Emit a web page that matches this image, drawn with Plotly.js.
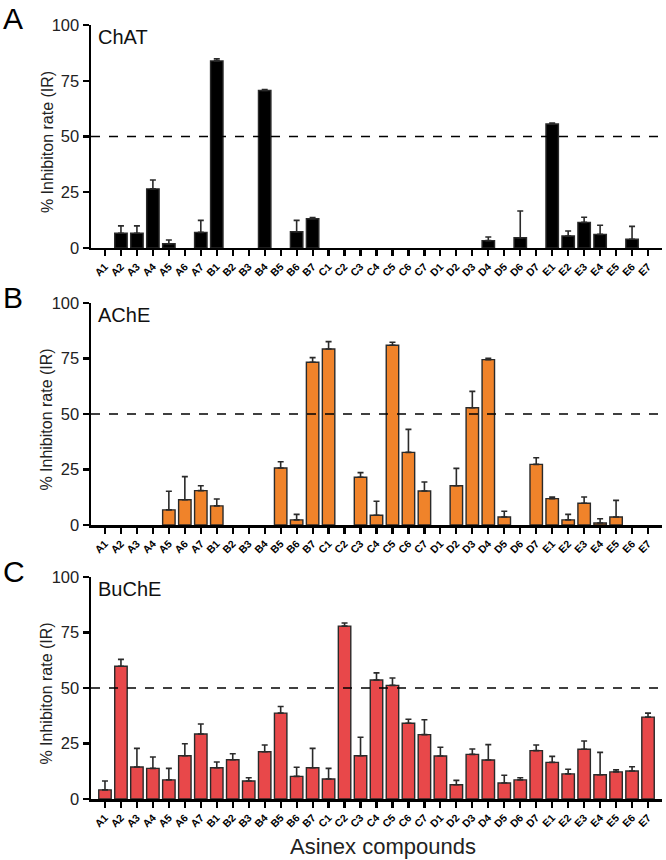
<!DOCTYPE html>
<html>
<head>
<meta charset="utf-8">
<script src="https://cdn.plot.ly/plotly-3.0.1.min.js"></script>
<style>html,body{margin:0;padding:0;background:#fff;}#chart{width:666px;height:860px;}</style>
</head>
<body>
<div id="chart"></div>
<script>
const compounds = ["A1","A2","A3","A4","A5","A6","A7","B1","B2","B3","B4","B5","B6","B7","C1","C2","C3","C4","C5","C6","C7","D1","D2","D3","D4","D5","D6","D7","E1","E2","E3","E4","E5","E6","E7"];

const chatValues = [0,6.6,6.6,26.5,1.9,0,7.0,83.9,0,0,70.6,0,7.3,13.1,0,0,0,0,0,0,0,0,0,0,3.3,0,4.6,0,55.6,5.4,11.5,6.1,0,3.9,0];
const chatErr    = [0,3.3,3.3,4.0,1.7,0,5.4,0.9,0,0,0.4,0,5.1,0.6,0,0,0,0,0,0,0,0,0,0,1.6,0,12.0,0,0.4,2.2,2.3,4.1,0,5.8,0];

const acheValues = [0,0,0,0,6.8,11.4,15.5,8.6,0,0,0,25.7,2.3,73.3,79.3,0,21.5,4.4,81.0,32.7,15.3,0,17.7,52.8,74.5,3.6,0,27.3,11.9,2.3,9.8,0.9,3.6,0,0];
const acheErr    = [0,0,0,0,8.4,10.4,2.2,3.1,0,0,0,2.8,2.5,2.1,3.3,0,2.1,6.3,1.3,10.4,4.1,0,7.8,7.4,0.6,2.6,0,3.0,0.7,2.5,2.8,1.9,7.5,0,0];

const bucheValues = [4.1,59.8,14.4,13.8,8.6,19.5,29.3,14.1,17.7,8.1,21.3,38.7,10.2,14.1,9.0,77.9,19.5,53.6,51.2,34.1,29.0,19.4,6.4,20.1,17.6,7.2,8.6,21.8,16.5,11.3,22.4,10.9,12.2,12.6,36.9];
const bucheErr    = [4.0,3.1,8.4,5.1,5.2,5.4,4.5,2.6,2.7,1.5,3.0,3.0,4.1,8.7,4.8,1.4,8.3,3.2,3.3,1.8,6.7,3.9,2.0,2.4,6.9,3.5,1.0,2.5,2.7,2.1,3.7,10.1,0.9,1.9,1.8];

const panelTitles = ["ChAT","AChE","BuChE"];
const panelLetters = ["A","B","C"];
const yTitle = "% Inhibiton rate (IR)";
const xTitle = "Asinex compounds";
const yTicks = [0,25,50,75,100];
const threshold = 50;

const fills = ["#000000","#F0832A","#E8484A"];
const series = [[chatValues,chatErr],[acheValues,acheErr],[bucheValues,bucheErr]];

const traces = series.map((s,i)=>({
  type:"bar",
  x:compounds,
  y:s[0].map(v=> v>0 ? v : null),
  xaxis: i===0?"x":"x"+(i+1),
  yaxis: i===0?"y":"y"+(i+1),
  width:0.78,
  marker:{color:fills[i], line:{color:"#2a2a2a", width:1.4}},
  error_y:{type:"data", symmetric:false, array:s[1].map((e,j)=> s[0][j]>0 ? e : null), arrayminus:s[1].map(()=>0), color:"#2a2a2a", thickness:1.6, width:3},
  hoverinfo:"skip",
  showlegend:false
}));

const domains = [[0.7119,1.0],[0.354,0.6408],[0,0.2868]];
const font = "Liberation Sans, Arial, Helvetica, sans-serif";

const layout = {
  width:666, height:860,
  margin:{l:91, r:4, t:25, b:61},
  paper_bgcolor:"#fff", plot_bgcolor:"#fff",
  showlegend:false,
  shapes:[], annotations:[]
};

for(let i=0;i<3;i++){
  const xk = i===0?"xaxis":"xaxis"+(i+1);
  const yk = i===0?"yaxis":"yaxis"+(i+1);
  const xa = i===0?"x":"x"+(i+1);
  const ya = i===0?"y":"y"+(i+1);
  layout[xk] = {
    domain:[0,1], anchor:ya, type:"category",
    range:[-0.875, 34.875],
    showline:true, linecolor:"#000", linewidth:2.5,
    ticks:"outside", ticklen:6, tickwidth:2.2, tickcolor:"#000",
    tickangle:-45,
    tickfont:{family:font, size:10.5, color:"#000", weight:"bold"},
    showgrid:false, zeroline:false, fixedrange:true
  };
  layout[yk] = {
    domain:domains[i], anchor:xa,
    range:[0,100], tickvals:yTicks,
    showline:true, linecolor:"#000", linewidth:2.5,
    ticks:"outside", ticklen:6, tickwidth:2.2, tickcolor:"#000",
    tickfont:{family:font, size:16.5, color:"#222"},
    showgrid:false, zeroline:false, fixedrange:true
  };
  layout.shapes.push({
    type:"line", xref:xa+" domain", yref:ya, x0:0, x1:1, y0:threshold, y1:threshold,
    line:{color:"#000", width:1.6, dash:"dash"}
  });
  layout.annotations.push({
    xref:xa+" domain", yref:ya+" domain", x:0.008, y:1.005, xanchor:"left", yanchor:"top",
    text:panelTitles[i], showarrow:false, font:{family:font, size:20, color:"#111"}
  });
  layout.annotations.push({
    xref:"paper", yref:ya+" domain", x:-0.158, y:1.11, xanchor:"left", yanchor:"top",
    text:panelLetters[i], showarrow:false, font:{family:font, size:30, color:"#000"}
  });
  layout.annotations.push({
    xref:"paper", yref:ya+" domain", x:-0.077, y:0.475, xanchor:"center", yanchor:"middle",
    textangle:-90, text:yTitle, showarrow:false, font:{family:font, size:16, color:"#222"}
  });
}
layout.annotations.push({
  xref:"paper", yref:"paper", x:0.512, y:-0.062, xanchor:"center", yanchor:"middle",
  text:xTitle, showarrow:false, font:{family:font, size:22, color:"#222"}
});

Plotly.newPlot("chart", traces, layout, {displayModeBar:false, staticPlot:true});
</script>
</body>
</html>
